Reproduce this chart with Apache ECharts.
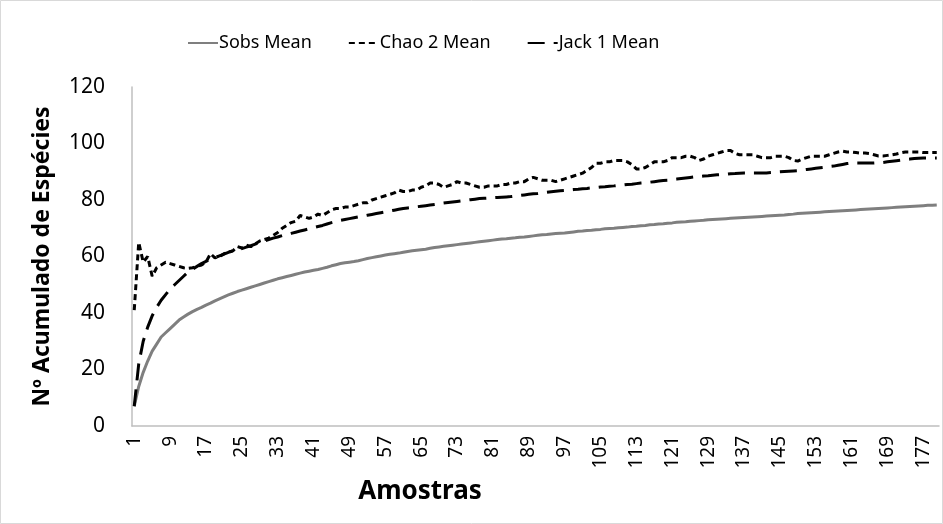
<!DOCTYPE html>
<html><head><meta charset="utf-8">
<script src="https://cdn.jsdelivr.net/npm/echarts@6/dist/echarts.min.js"></script>
<style>html,body{margin:0;padding:0;background:#fff}#c{width:943px;height:524px}</style>
</head><body><div id="c"></div>
<script>
const categories = [];
for (let i = 1; i <= 180; i++) categories.push(String(i));

const sobsMean = [7,14,19,23,26.5,29,31.5,33,34.5,36,37.5,38.6,39.6,40.5,41.3,42,42.8,43.5,44.3,45,
45.7,46.4,47,47.6,48.1,48.6,49.1,49.6,50.1,50.6,51.1,51.6,52.1,52.5,52.9,53.3,53.7,54.1,54.5,54.8,
55.1,55.4,55.8,56.2,56.7,57.1,57.5,57.8,58,58.2,58.5,58.9,59.3,59.6,59.9,60.2,60.5,60.8,61,61.2,
61.5,61.8,62,62.2,62.4,62.6,62.9,63.2,63.4,63.6,63.8,64,64.2,64.4,64.6,64.8,65,65.2,65.4,65.6,
65.8,66,66.2,66.3,66.5,66.6,66.8,66.9,67.1,67.3,67.5,67.7,67.8,68,68.1,68.2,68.3,68.5,68.7,68.9,
69,69.2,69.3,69.5,69.6,69.8,69.9,70,70.2,70.3,70.4,70.6,70.7,70.9,71,71.2,71.3,71.5,71.6,71.8,
71.9,72.1,72.2,72.3,72.5,72.6,72.7,72.8,73,73.1,73.2,73.3,73.4,73.5,73.6,73.7,73.8,73.9,74,74.1,
74.2,74.3,74.4,74.5,74.6,74.7,74.9,75,75.2,75.3,75.4,75.5,75.6,75.7,75.8,75.9,76,76.1,76.2,76.3,
76.4,76.5,76.6,76.7,76.8,76.9,77,77.1,77.2,77.3,77.4,77.5,77.6,77.7,77.8,77.9,78,78.1,78.1,78.2];

const chao2Mean = [41,65,58,60,53,56,57,58,57.5,57,56.5,56,55.8,56,56.5,57,58,61,59.5,60,
61,61.5,62,63.5,63,64,63.5,64.5,65.5,66,66.5,67.5,68.5,70,71,72,72.5,74.5,74,73.5,
74,75,74.5,75.5,76.5,77,77,77.5,77.5,78,78.5,79,79,80,80.5,81,81.5,82,82.5,83.5,
83,83,83.5,83.5,84.5,85,86,86,85.5,84.5,85,85.5,86.5,86,86,85.5,85,84.5,84.5,85,
85,85,85.5,85.5,86,86,86.5,86.5,87.5,88,87.5,87,87,87,86.5,87,87.5,88,88.5,89,
89.5,90.5,91.5,93,93,93.5,93.5,94,94,94,93.5,92.5,91,91,91.5,92.5,93.5,93.5,93.5,94,
95,95,95,95.5,95.5,95,94,94.5,95.5,96,96.5,97,97.5,97.5,96.5,96,96,96,96,95.5,
95,95,95,95.5,95.5,95.5,95,94,93.8,94.5,95,95.5,95.5,95.5,95.5,96,96.5,97,97.3,97,
97,96.8,96.6,96.6,96.4,96,95.6,95.6,95.8,96,96.3,96.7,97,97,97,97,96.8,96.8,96.8,96.8];

const jack1Mean = [7,22,30,35,39,42,44.5,46.5,48.5,50,51.5,53,54.5,55.5,56.5,57.5,58.3,59,59.6,60.2,
60.8,61.5,62,62.4,62.8,63.3,63.8,64.4,65,65.5,66,66.5,66.9,67.4,67.8,68.2,68.6,69,69.4,69.8,
70.2,70.6,71,71.5,72,72.4,72.8,73.1,73.4,73.7,74,74.3,74.6,74.9,75.2,75.5,75.8,76.1,76.4,76.7,
77,77.2,77.4,77.6,77.8,78,78.2,78.4,78.6,78.9,79.1,79.3,79.5,79.7,79.9,80.1,80.3,80.5,80.6,80.7,
80.8,80.9,81,81.1,81.2,81.4,81.6,81.8,82,82.2,82.3,82.5,82.7,82.9,83.1,83.3,83.4,83.5,83.7,83.8,
84,84.1,84.3,84.4,84.6,84.7,84.9,85,85.2,85.3,85.5,85.6,85.8,86,86.1,86.3,86.5,86.7,86.9,87,
87.2,87.4,87.6,87.8,88,88.2,88.3,88.5,88.6,88.8,88.9,89,89.1,89.3,89.4,89.5,89.6,89.6,89.6,89.6,
89.6,89.6,89.7,89.8,90,90.1,90.2,90.3,90.4,90.6,90.8,91,91.2,91.4,91.6,91.8,92,92.3,92.6,92.9,
93.1,93.1,93.1,93.1,93.1,93.1,93.2,93.3,93.5,93.7,93.9,94.1,94.3,94.5,94.7,94.8,94.9,94.9,94.9,94.9];

const yTicks = {min: 0, max: 120, interval: 20};
const seriesNames = ['Sobs Mean', 'Chao 2 Mean', 'Jack 1 Mean'];

const FONT = 'Noto Sans';
const chart = echarts.init(document.getElementById('c'), null, {renderer: 'canvas'});
chart.setOption({
  animation: false,
  backgroundColor: '#fff',
  textStyle: {fontFamily: FONT},
  legend: {
    left: 182, top: 29,
    itemWidth: 30, itemHeight: 12, itemGap: 36,
    itemStyle: {opacity: 0},
    textStyle: {fontFamily: FONT, fontSize: 18, color: '#000', padding: [0, 0, 0, -4]},
    data: seriesNames
  },
  grid: {left: 132, right: 4, top: 87, bottom: 98},
  xAxis: {
    type: 'category',
    data: categories,
    boundaryGap: true,
    axisLine: {lineStyle: {color: '#bfbfbf', width: 1.5}},
    axisTick: {show: false},
    axisLabel: {interval: 7, rotate: 90, fontFamily: FONT, fontSize: 19, color: '#000', margin: 10}
  },
  yAxis: {
    type: 'value',
    min: yTicks.min, max: yTicks.max, interval: yTicks.interval,
    splitLine: {show: false},
    axisLine: {show: true, lineStyle: {color: '#bfbfbf', width: 1.5}},
    axisTick: {show: false},
    axisLabel: {fontFamily: FONT, fontSize: 21, color: '#000', margin: 27},
    name: 'Nº Acumulado de Espécies',
    nameLocation: 'middle',
    nameGap: 78,
    nameTextStyle: {fontFamily: FONT, fontSize: 23, fontWeight: 'bold', color: '#000'}
  },
  graphic: [
    {type: 'rect', shape: {x: 0.5, y: 0.5, width: 942, height: 523},
     style: {fill: 'none', stroke: '#d9d9d9', lineWidth: 1}, silent: true},
    {type: 'text', x: 420, y: 479,
     style: {text: 'Amostras', font: 'bold 26px "Noto Sans"', fill: '#000', textAlign: 'center'}}
  ],
  series: [
    {name: seriesNames[0], type: 'line', data: sobsMean, symbol: 'none',
     lineStyle: {color: '#7f7f7f', width: 3, type: 'solid'}, itemStyle: {color: '#7f7f7f'}},
    {name: seriesNames[1], type: 'line', data: chao2Mean, symbol: 'none',
     lineStyle: {color: '#000', width: 3, type: [6, 4]}, itemStyle: {color: '#000'}},
    {name: seriesNames[2], type: 'line', data: jack1Mean, symbol: 'none',
     lineStyle: {color: '#000', width: 3, type: [17, 9]}, itemStyle: {color: '#000'}}
  ]
});
</script></body></html>
